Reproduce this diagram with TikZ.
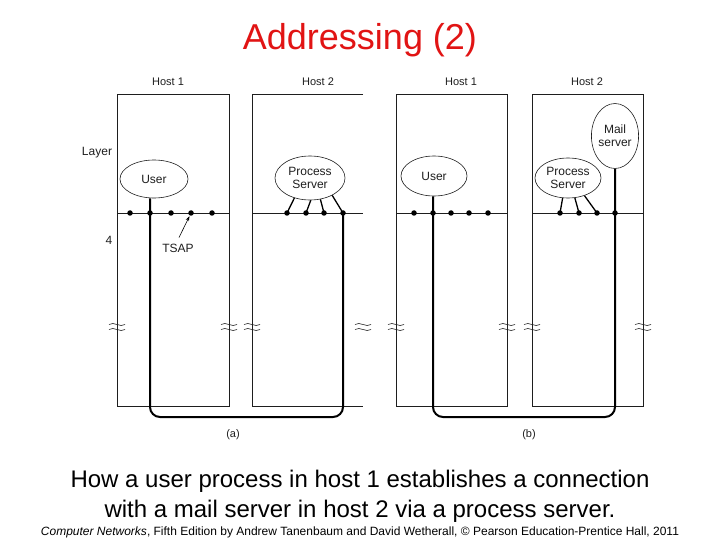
\documentclass[tikz,border=0pt]{standalone}
\usepackage{fontspec}
\setmainfont{Liberation Sans}
\usetikzlibrary{shapes.geometric,arrows.meta}
\definecolor{titlered}{RGB}{225,20,20}
\definecolor{ink}{RGB}{30,30,30}
\begin{document}
\begin{tikzpicture}[x=1pt,y=-1pt,
 hostbox/.style={draw=ink,line width=0.8pt},
 layerline/.style={draw=ink,line width=0.8pt},
 conn/.style={draw=black,line width=2pt,rounded corners=10pt},
 tap/.style={draw=black,line width=1.3pt},
 tsapdot/.style={circle,fill=black,inner sep=0pt,minimum size=5.5pt},
 proc/.style={ellipse,draw=ink,line width=0.6pt,inner sep=0pt,align=center,text=ink,font=\fontsize{12}{13}\selectfont},
 lbl/.style={font=\fontsize{11}{12}\selectfont,text=ink,inner sep=0pt},
 brk/.style={draw=ink,line width=0.6pt},
 brkpic/.pic={\draw[brk] (-8,-2.5) .. controls (-3,-6) and (3,1) .. (8,-2.5);
               \draw[brk] (-8,2.5) .. controls (-3,-1) and (3,6) .. (8,2.5);}]
\useasboundingbox (0,0) rectangle (720,540);

% title
\node[text=titlered,font=\fontsize{36}{40}\selectfont] (title) at (360,40) {Addressing (2)};

% ---------- (a) ----------
\draw[hostbox] (117,94) rectangle (229,406);
\draw[hostbox] (363,94) -- (252,94) -- (252,406) -- (363,406);
\draw[layerline] (117,213) -- (229,213);
\draw[layerline] (252,213) -- (363,213);
\node[lbl] (h1a) at (168,82) {Host 1};
\node[lbl] (h2a) at (318,82) {Host 2};
\node[lbl,font=\fontsize{12}{13}\selectfont] (layer) at (97,153) {Layer};
\node[lbl,font=\fontsize{12}{13}\selectfont] (four) at (109,240) {4};

\node[tsapdot] (a1) at (130,213) {};
\node[tsapdot] (a2) at (150,213) {};
\node[tsapdot] (a3) at (171,213) {};
\node[tsapdot] (a4) at (191,213) {};
\node[tsapdot] (a5) at (212,213) {};
\node[proc,minimum width=68pt,minimum height=38pt] (ua) at (154,179) {User};

\node[proc,minimum width=70pt,minimum height=44pt] (ps) at (310,178) {Process\\Server};
\node[tsapdot] (p1) at (287,213) {};
\node[tsapdot] (p2) at (306,213) {};
\node[tsapdot] (p3) at (324,213) {};
\node[tsapdot] (p4) at (343,213) {};
\draw[tap] (ps.-128) -- (p1.center);
\draw[tap] (ps.-88) -- (p2.center);
\draw[tap] (ps.-64) -- (p3.center);
\draw[tap] (ps.-38) -- (p4.center);

\coordinate (lba) at (0,417);
\draw[conn] (a2 |- ua.south) -- (a2.center) -- (a2 |- lba) -- (p4 |- lba) -- (p4.center);

\node[lbl,font=\fontsize{12}{13}\selectfont] (tsap) at (178,248) {TSAP};
\draw[line width=0.6pt,-{Stealth[length=5pt,width=3.5pt]},shorten >=0.5pt] ([xshift=1pt,yshift=6pt]tsap.north) -- (a4);

\node[lbl] (capa) at (233,435) {(a)};

% ---------- (b) ----------
\draw[hostbox] (396,94) rectangle (507,406);
\draw[hostbox] (532,94) rectangle (643,406);
\draw[layerline] (396,213) -- (507,213);
\draw[layerline] (532,213) -- (643,213);
\node[lbl] (h1b) at (461,82) {Host 1};
\node[lbl] (h2b) at (587,82) {Host 2};

\node[tsapdot] (b1) at (414,213) {};
\node[tsapdot] (b2) at (433,213) {};
\node[tsapdot] (b3) at (451,213) {};
\node[tsapdot] (b4) at (469,213) {};
\node[tsapdot] (b5) at (488,213) {};
\node[proc,minimum width=66pt,minimum height=40pt] (ub) at (434,176) {User};

\node[proc,minimum width=66pt,minimum height=40pt] (ps2) at (568,178) {Process\\Server};
\node[proc,minimum width=44pt,minimum height=65pt] (ms) at (615,136) {Mail\\server};
\node[tsapdot] (q1) at (560,213) {};
\node[tsapdot] (q2) at (579,213) {};
\node[tsapdot] (q3) at (597,213) {};
\node[tsapdot] (q4) at (615,213) {};
\draw[tap] (ps2.-105) -- (q1.center);
\draw[tap] (ps2.-71) -- (q2.center);
\draw[tap] (ps2.-47) -- (q3.center);

\coordinate (lbb) at (0,417);
\draw[conn] (ms.south) -- (q4.center) -- (q4 |- lbb) -- (b2 |- lbb) -- (b2.center) -- (b2 |- ub.south);

\node[lbl] (capb) at (529,435) {(b)};

% break marks
\foreach \bx in {117,229,252,363,396,507,532,643}
  \pic at (\bx,327) {brkpic};

% caption
\node[align=center,text=black,font=\fontsize{24}{30}\selectfont] (caption) at (360,496)
  {How a user process in host 1 establishes a connection\\with a mail server in host 2 via a process server.};
\node[text=black,font=\fontsize{12}{13}\selectfont] (footer) at (360,532)
  {\textit{Computer Networks}, Fifth Edition by Andrew Tanenbaum and David Wetherall, © Pearson Education-Prentice Hall, 2011};
\end{tikzpicture}
\end{document}
